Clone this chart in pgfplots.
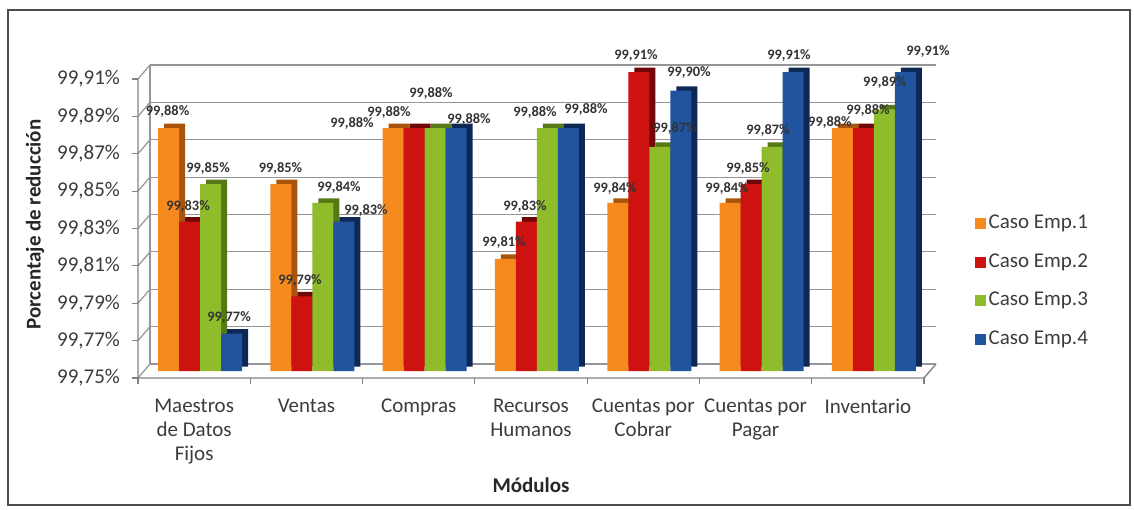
\documentclass[border=0pt]{standalone}
\usepackage{pgfplots}
\pgfplotsset{compat=1.18}
\usepackage{pgfplotstable}
\usepackage{fontspec}
\setmainfont{Carlito}

\definecolor{cA}{RGB}{246,138,30}
\definecolor{cAd}{RGB}{168,84,12}
\definecolor{cB}{RGB}{206,18,16}
\definecolor{cBd}{RGB}{112,6,6}
\definecolor{cC}{RGB}{142,188,42}
\definecolor{cCd}{RGB}{86,120,22}
\definecolor{cD}{RGB}{32,84,158}
\definecolor{cDd}{RGB}{14,40,86}
\definecolor{gridc}{RGB}{150,150,150}
\definecolor{axisc}{RGB}{130,130,130}
\definecolor{txt}{RGB}{60,60,60}

% x = module, y = reduction (%), dx/dy = label offset (pt)
\pgfplotstableread{
x y dx dy
0 99.88 -0.55 8.05
1 99.85 -0.2 8.05
2 99.88 -20.6 2.05
3 99.81 -0.75 7.95
4 99.84 -1.4 7.4
5 99.84 -1.55 7.4
6 99.88 -6.2 3.0
}\caseA
\pgfplotstableread{
x y dx dy
0 99.83 -0.8 7.75
1 99.79 -0.95 7.65
2 99.88 -12.6 7.55
3 99.83 -0.75 7.75
4 99.91 -1.4 8.0
5 99.85 -1.55 8.05
6 99.88 2.3 8.55
}\caseB
\pgfplotstableread{
x y dx dy
0 99.85 -1.3 8.05
1 99.84 8.05 7.9
2 99.88 -2.1 17.05
3 99.88 -6.25 7.55
4 99.87 7.6 8.9
5 99.87 -2.05 7.9
6 99.89 0.3 13.2
}\caseC
\pgfplotstableread{
x y dx dy
0 99.77 -1.3 8.3
1 99.83 11.05 5.25
2 99.88 6.4 4.05
3 99.88 8.75 9.05
4 99.90 4.1 8.85
5 99.91 -2.05 8.0
6 99.91 11.3 10.0
}\caseD

\tikzset{
  front/.style={shift={(-3pt,-3.5pt)}},
  back/.style={shift={(3pt,3.5pt)}},
  bar3d/.style={preaction={fill=#1, draw=none, transform canvas={shift={(3pt,2.2pt)}}}},
}

\begin{document}
\begin{tikzpicture}
\path[use as bounding box] (-72pt,-69pt) rectangle (495pt,185.5pt);
\draw[black!70, line width=0.6pt] (-68pt,-67pt) rectangle (493pt,180.5pt);
\begin{axis}[
  at={(0pt,0pt)}, anchor=south west,
  scale only axis, width=393pt, height=149.5pt,
  xmin=-0.5, xmax=6.5, ymin=99.75, ymax=99.91,
  y coord trafo/.code={\pgfmathparse{#1-99.75}},
  y coord inv trafo/.code={\pgfmathparse{#1+99.75}},
  axis line style={draw=none}, tick style={draw=none},
  clip=false,
  xtick={0,1,2,3,4,5,6},
  xticklabels={{Maestros\\de Datos\\Fijos},Ventas,Compras,{Recursos\\Humanos},{Cuentas por\\Cobrar},{Cuentas por\\Pagar},Inventario},
  xticklabel style={align=center, font=\fontsize{10.5}{12}\selectfont, text=txt, xshift=-3pt, yshift=-6pt},
  ytick={99.75,99.77,99.79,99.81,99.83,99.85,99.87,99.89,99.91},
  yticklabels={{99,75\%},{99,77\%},{99,79\%},{99,81\%},{99,83\%},{99,85\%},{99,87\%},{99,89\%},{99,91\%}},
  yticklabel style={font=\fontsize{10.5}{12}\selectfont, text=txt, xshift=-8.5pt, yshift=-3.5pt},
  xlabel={Módulos}, ylabel={Porcentaje de reducción},
  label style={font=\bfseries\fontsize{10.5}{12}\selectfont, text=black!85},
  xlabel style={at={(axis description cs:0.4924,-0.381)}, anchor=center},
  ylabel style={at={(axis description cs:-0.1387,0.49)}, anchor=center},
  ybar, bar width=10.5pt,
  point meta=rawy,
  visualization depends on={\thisrow{dx} \as \ldx},
  visualization depends on={\thisrow{dy} \as \ldy},
  nodes near coords={\pgfmathprintnumber[fixed,fixed zerofill,precision=2,use comma,assume math mode=true]{\pgfplotspointmeta}\%},
  every node near coord/.append style={font=\bfseries\fontsize{7.2}{8}\selectfont, text=black!80, anchor=center, inner sep=0pt, xshift=\ldx pt, yshift=\ldy pt},
  legend style={at={(axis description cs:1.0573,0.30)}, anchor=west, draw=none, fill=none,
    font=\fontsize{10.5}{12}\selectfont, text=txt, row sep=8.5pt, inner sep=0pt,
    nodes={inner sep=1.2pt}},
  legend cell align=left,
]
% back wall, floor and front axis of the 3D frame
\pgfplotsinvokeforeach{99.75,99.77,99.79,99.81,99.83,99.85,99.87,99.89,99.91}{
  \draw[gridc, line width=0.6pt] ([back]axis cs:-0.5,#1) -- ([back]axis cs:6.5,#1);
  \draw[gridc, line width=0.6pt] ([front]axis cs:-0.5,#1) -- ([back]axis cs:-0.5,#1);
  \draw[axisc, line width=0.6pt] ([front]axis cs:-0.5,#1) -- ++(-3pt,0pt);
}
\draw[gridc, line width=0.6pt] ([back]axis cs:-0.5,99.75) -- ([back]axis cs:-0.5,99.91);
\draw[axisc, line width=0.7pt] ([front]axis cs:-0.5,99.91) -- ([front]axis cs:-0.5,99.75) -- ([front]axis cs:6.5,99.75) -- ([back]axis cs:6.5,99.75);
\pgfplotsinvokeforeach{-0.5,0.5,1.5,2.5,3.5,4.5,5.5,6.5}{
  \draw[axisc, line width=0.6pt] ([front]axis cs:#1,99.75) -- ++(0pt,-3pt);
}

\addlegendimage{legend image code/.code={\fill[cA] (0pt,-2.6pt) rectangle (5pt,2.4pt);}}
\addlegendentry{Caso Emp.1}
\addlegendimage{legend image code/.code={\fill[cB] (0pt,-2.6pt) rectangle (5pt,2.4pt);}}
\addlegendentry{Caso Emp.2}
\addlegendimage{legend image code/.code={\fill[cC] (0pt,-2.6pt) rectangle (5pt,2.4pt);}}
\addlegendentry{Caso Emp.3}
\addlegendimage{legend image code/.code={\fill[cD] (0pt,-2.6pt) rectangle (5pt,2.4pt);}}
\addlegendentry{Caso Emp.4}

\addplot[forget plot, draw=none, fill=cA, bar shift=-15.75pt, bar3d=cAd] table[x=x, y=y] {\caseA};
\addplot[forget plot, draw=none, fill=cB, bar shift=-5.25pt, bar3d=cBd] table[x=x, y=y] {\caseB};
\addplot[forget plot, draw=none, fill=cC, bar shift=5.25pt, bar3d=cCd] table[x=x, y=y] {\caseC};
\addplot[forget plot, draw=none, fill=cD, bar shift=15.75pt, bar3d=cDd] table[x=x, y=y] {\caseD};
\end{axis}
\end{tikzpicture}
\end{document}
